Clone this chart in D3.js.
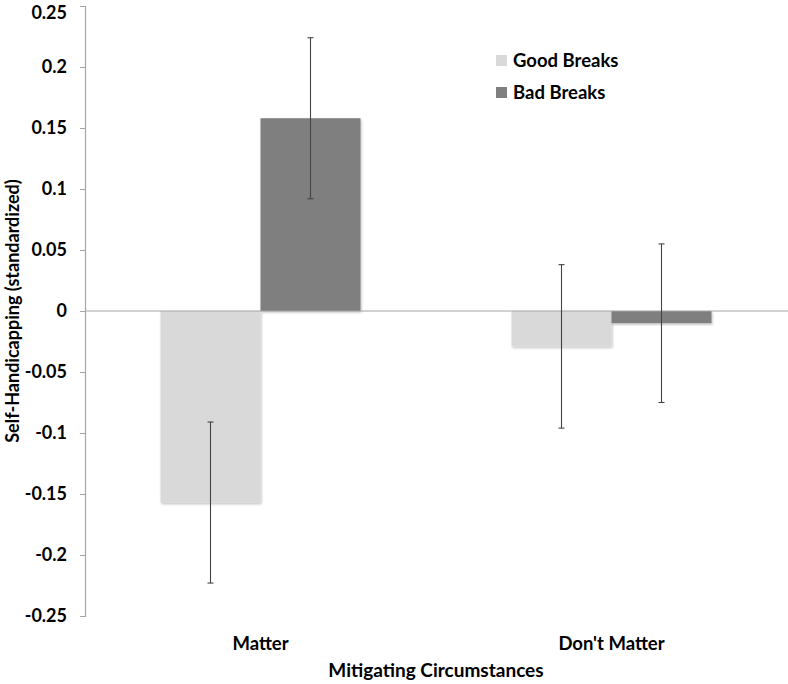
<!DOCTYPE html>
<html><head><meta charset="utf-8">
<script src="https://cdn.jsdelivr.net/npm/d3@7"></script>
<style>body{margin:0;background:#fff}svg{display:block}text{font-family:Lato,"Open Sans",sans-serif;font-weight:bold;fill:#000}</style>
</head><body><svg id="c" width="788" height="684"></svg>
<script>
const categories = ["Matter", "Don't Matter"];
const seriesNames = ["Good Breaks", "Bad Breaks"];
const goodBreaks = [-0.157, -0.029];
const badBreaks = [0.158, -0.010];
const goodErr = [0.066, 0.067];
const badErr = [0.066, 0.065];
const yTicks = [-0.25, -0.2, -0.15, -0.1, -0.05, 0, 0.05, 0.1, 0.15, 0.2, 0.25];
const colors = ["#d9d9d9", "#7f7f7f"];

const svg = d3.select("#c");
const x = d3.scaleBand().domain(categories).range([85, 787]).padding(0);
const y = d3.scaleLinear().domain([-0.25, 0.25]).range([616, 6]);
const xs = d3.scaleBand().domain(seriesNames).range([0, 200]).padding(0);

const data = categories.map((c, i) => ({c, vals: [
  {s: seriesNames[0], v: goodBreaks[i], e: goodErr[i]},
  {s: seriesNames[1], v: badBreaks[i], e: badErr[i]}]}));

// y axis
const yAxis = d3.axisLeft(y).tickValues(yTicks).tickSize(5).tickPadding(13)
  .tickFormat(d => d === 0 ? "0" : String(+d.toFixed(2)));
const ga = svg.append("g").attr("transform", "translate(85,0)").call(yAxis);
ga.select(".domain").attr("stroke", "#a6a6a6").attr("stroke-width", 1.2);
ga.selectAll(".tick line").attr("stroke", "#a6a6a6");
ga.selectAll(".tick text").style("font-size", "18px").style("font-family", "Lato,'Open Sans',sans-serif").style("font-weight", "bold").attr("fill", "#000")
  .attr("dy", d => d === 0.25 ? "0.72em" : "0.32em");

// shadow filter
const defs = svg.append("defs");
const f = defs.append("filter").attr("id", "sh").attr("x", "-10%").attr("y", "-10%").attr("width", "130%").attr("height", "130%");
f.append("feDropShadow").attr("dx", 1).attr("dy", 1.5).attr("stdDeviation", 1).attr("flood-color", "#000").attr("flood-opacity", 0.25);

// bars
const g = svg.append("g");
data.forEach(d => {
  const x0 = x(d.c) + x.bandwidth() / 2 - 100;
  d.vals.forEach((b, j) => {
    g.append("rect")
      .attr("x", x0 + xs(b.s))
      .attr("width", xs.bandwidth())
      .attr("y", y(Math.max(0, b.v)))
      .attr("height", Math.abs(y(b.v) - y(0)))
      .attr("fill", colors[j]).attr("filter", "url(#sh)");
  });
});

// zero line
svg.append("line").attr("x1", 85).attr("x2", 788).attr("y1", y(0)).attr("y2", y(0))
  .attr("stroke", "#a6a6a6").attr("stroke-width", 1.2);

// error bars
data.forEach(d => {
  const x0 = x(d.c) + x.bandwidth() / 2 - 100;
  d.vals.forEach(b => {
    const cx = x0 + xs(b.s) + xs.bandwidth() / 2;
    const eg = svg.append("g").attr("stroke", "#444").attr("stroke-width", 1.1);
    eg.append("line").attr("x1", cx).attr("x2", cx).attr("y1", y(b.v + b.e)).attr("y2", y(b.v - b.e));
    eg.append("line").attr("x1", cx - 3).attr("x2", cx + 3).attr("y1", y(b.v + b.e)).attr("y2", y(b.v + b.e));
    eg.append("line").attr("x1", cx - 3).attr("x2", cx + 3).attr("y1", y(b.v - b.e)).attr("y2", y(b.v - b.e));
  });
});

// x labels
categories.forEach(c => {
  svg.append("text").attr("x", x(c) + x.bandwidth() / 2).attr("y", 650)
    .attr("text-anchor", "middle").style("font-size", "18.5px").text(c);
});
svg.append("text").attr("x", 436).attr("y", 677).attr("text-anchor", "middle")
  .style("font-size", "19px").text("Mitigating Circumstances");
svg.append("text").attr("transform", "translate(19,311) rotate(-90)").attr("text-anchor", "middle")
  .style("font-size", "18px").text("Self-Handicapping (standardized)");

// legend
seriesNames.forEach((s, i) => {
  const ly = 55 + i * 32;
  svg.append("rect").attr("x", 496).attr("y", ly).attr("width", 11).attr("height", 11).attr("fill", colors[i]);
  svg.append("text").attr("x", 513).attr("y", ly + 12).style("font-size", "18.5px").text(s);
});
</script></body></html>
